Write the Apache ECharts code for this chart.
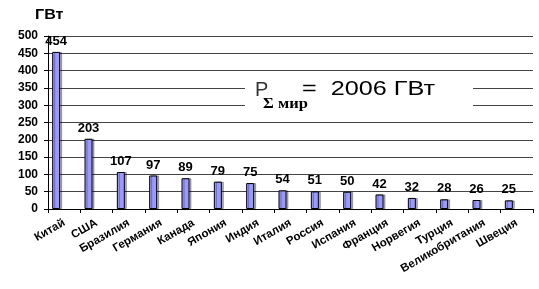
<!DOCTYPE html>
<html>
<head>
<meta charset="utf-8">
<script src="https://cdn.jsdelivr.net/npm/echarts@6/dist/echarts.min.js"></script>
<style>
  html, body { margin: 0; padding: 0; background: #fff; }
  #chart { width: 539px; height: 289px; }
</style>
</head>
<body>
<div id="chart"></div>
<script>
// данные
const countries = ['Китай', 'США', 'Бразилия', 'Германия', 'Канада', 'Япония', 'Индия',
  'Италия', 'Россия', 'Испания', 'Франция', 'Норвегия', 'Турция', 'Великобритания', 'Швеция'];
const capacity = [454, 203, 107, 97, 89, 79, 75, 54, 51, 50, 42, 32, 28, 26, 25];
const totalText = '=  2006 ГВт';

const chart = echarts.init(document.getElementById('chart'));

const option = {
  backgroundColor: '#fff',
  animation: false,
  textStyle: { fontFamily: 'Liberation Sans, Arial, sans-serif' },
  grid: { left: 48, right: 6, top: 36, bottom: 80 },
  xAxis: {
    type: 'category',
    data: countries,
    axisLine: { lineStyle: { color: '#000', width: 1 } },
    axisTick: { show: true, length: 4, lineStyle: { color: '#000' } },
    axisLabel: {
      rotate: 30,
      interval: 0,
      margin: 13,
      color: '#000',
      fontSize: 11.5,
      fontWeight: 'bold'
    }
  },
  yAxis: {
    type: 'value',
    min: 0,
    max: 500,
    interval: 50,
    axisLine: { show: true, lineStyle: { color: '#000', width: 1 } },
    axisTick: { show: true, length: 4, lineStyle: { color: '#000' } },
    axisLabel: { color: '#000', fontSize: 12, fontWeight: 'bold', margin: 10 },
    splitLine: { lineStyle: { color: '#444', width: 1 } }
  },
  series: [
    {
      type: 'bar',
      data: capacity,
      barWidth: 8,
      barGap: '100%',
      itemStyle: {
        color: '#9999ff',
        borderColor: '#000',
        borderWidth: 1,
        shadowColor: 'rgba(0,0,0,0.3)',
        shadowOffsetX: 2,
        shadowBlur: 0
      },
      label: {
        show: true,
        position: 'top',
        distance: 4,
        color: '#000',
        fontSize: 13,
        fontWeight: 'bold'
      }
    },
    {
      // пустая серия для смещения столбцов влево
      type: 'bar',
      data: [],
      barWidth: 8,
      silent: true
    }
  ],
  graphic: [
    {
      type: 'text',
      x: 35,
      y: 8,
      scaleX: 1.15,
      style: { text: 'ГВт', fontSize: 14, fontWeight: 'bold', fill: '#000', fontFamily: 'Liberation Sans, Arial' }
    },
    {
      type: 'rect',
      shape: { x: 245, y: 74, width: 228, height: 44 },
      style: { fill: '#fff' },
      z: 10
    },
    {
      type: 'text',
      x: 255,
      y: 80,
      z: 11,
      style: { text: 'P', fontSize: 20, fill: '#333', fontFamily: 'Liberation Sans, Arial' }
    },
    {
      type: 'text',
      x: 263,
      y: 97,
      z: 11,
      scaleX: 1.1,
      style: { text: 'Σ мир', fontSize: 15, fontWeight: 'bold', fill: '#000', fontFamily: 'Liberation Serif, Times New Roman' }
    },
    {
      type: 'text',
      x: 302,
      y: 79,
      z: 11,
      scaleX: 1.2,
      style: { text: totalText, fontSize: 21, fill: '#000', fontFamily: 'Liberation Sans, Arial' }
    }
  ]
};

chart.setOption(option);
</script>
</body>
</html>
